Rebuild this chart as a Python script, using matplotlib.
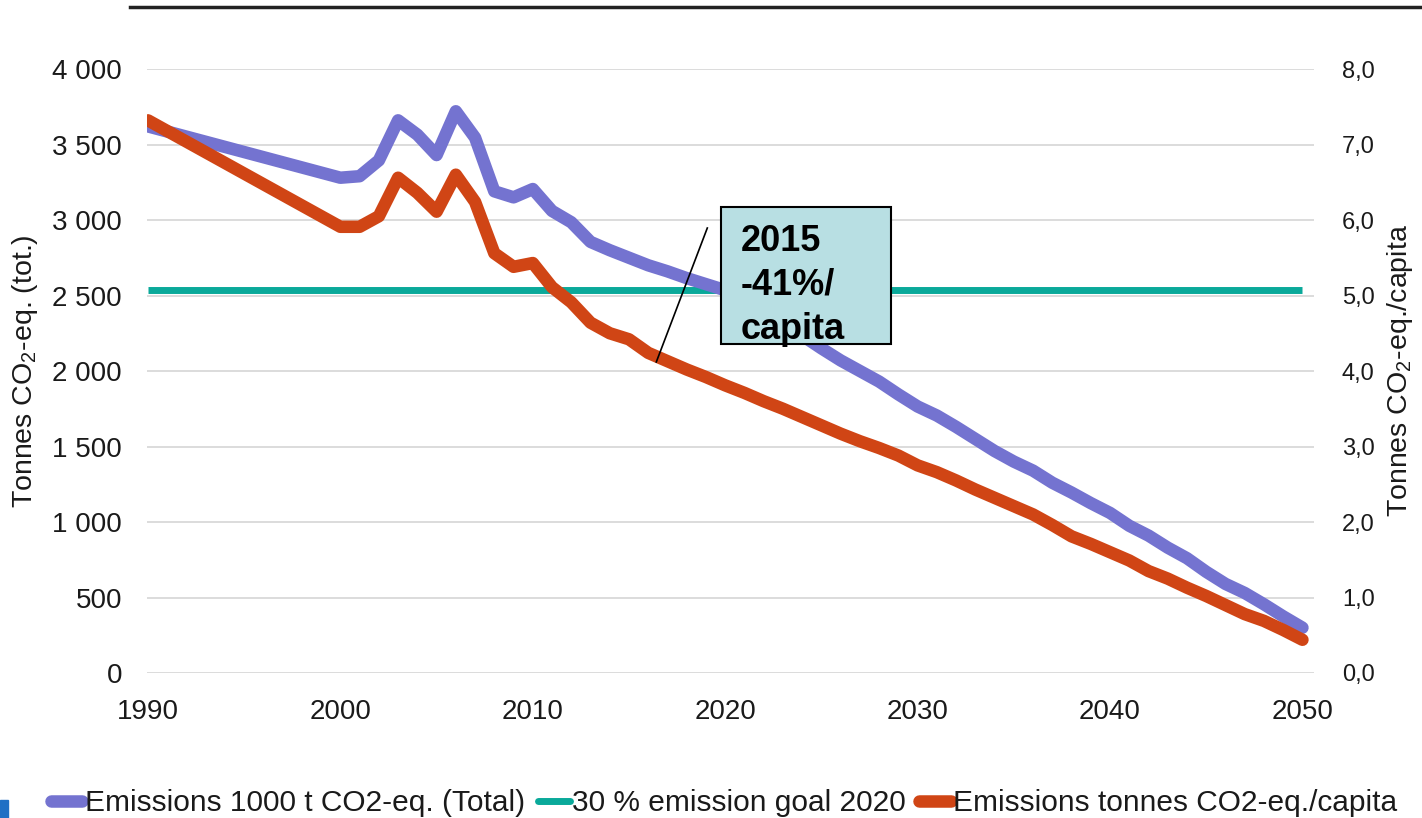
import matplotlib
matplotlib.use("Agg")
import matplotlib.pyplot as plt
from matplotlib.patches import Rectangle
from matplotlib.lines import Line2D
from matplotlib.ticker import FuncFormatter

# ---- data ----
years = [1990] + list(range(2000, 2051))

total_kt = [3620,
            3280, 3290, 3395, 3660, 3565, 3430, 3720, 3545, 3190, 3150,
            3205, 3060, 2985, 2855, 2800, 2750, 2700, 2660, 2615, 2575,
            2535, 2465, 2390, 2310, 2235, 2150, 2070, 2000, 1930, 1845,
            1765, 1705, 1630, 1550, 1470, 1400, 1340, 1260, 1195, 1125,
            1060, 975, 910, 830, 760, 670, 590, 530, 455, 375, 300]

per_capita = [7.32,
              5.91, 5.91, 6.05, 6.56, 6.36, 6.11, 6.60, 6.24, 5.56, 5.38,
              5.43, 5.11, 4.91, 4.64, 4.50, 4.42, 4.24, 4.13, 4.02, 3.92,
              3.81, 3.71, 3.60, 3.50, 3.39, 3.28, 3.17, 3.07, 2.98, 2.88,
              2.75, 2.66, 2.55, 2.43, 2.32, 2.21, 2.10, 1.96, 1.81, 1.71,
              1.60, 1.49, 1.35, 1.25, 1.13, 1.02, 0.90, 0.78, 0.69, 0.57, 0.44]

goal_years = [1990, 2050]
goal_kt = [2535, 2535]

label_total = "Emissions 1000 t CO2-eq. (Total)"
label_goal = "30 % emission goal 2020"
label_capita = "Emissions tonnes CO2-eq./capita"
box_text = "2015\n-41%/\ncapita"

# ---- fonts ----
plt.rcParams["font.family"] = ["Liberation Sans", "DejaVu Sans"]
plt.rcParams["mathtext.fontset"] = "custom"
plt.rcParams["mathtext.rm"] = "Liberation Sans"
plt.rcParams["mathtext.it"] = "Liberation Sans"

c_blue = "#7473d0"
c_teal = "#0aa99a"
c_red = "#d04515"
c_grid = "#d9d9d9"
c_text = "#1a1a1a"

fig = plt.figure(figsize=(14.22, 8.18), dpi=100)
ax = fig.add_axes([147 / 1422, 1 - 673 / 818, 1167 / 1422, 604 / 818])
ax2 = ax.twinx()

ax.plot(goal_years, goal_kt, color=c_teal, lw=5, solid_capstyle="butt", zorder=2)
ax.plot(years, total_kt, color=c_blue, lw=9, solid_capstyle="round",
        solid_joinstyle="round", zorder=3)
ax2.plot(years, per_capita, color=c_red, lw=9, solid_capstyle="round",
         solid_joinstyle="round", zorder=3)

ax.set_xlim(1989.95, 2050.6)
ax.set_ylim(0, 4000)
ax2.set_ylim(0, 8)
ax.set_xticks(range(1990, 2051, 10))
ax.set_yticks(range(0, 4001, 500))
ax2.set_yticks(range(0, 9))

ax.yaxis.set_major_formatter(FuncFormatter(lambda v, p: f"{int(v):,}".replace(",", " ")))
ax2.yaxis.set_major_formatter(FuncFormatter(lambda v, p: f"{v:.1f}".replace(".", ",")))

ax.grid(axis="y", color=c_grid, lw=1.3)
ax.set_axisbelow(True)
for a in (ax, ax2):
    for s in a.spines.values():
        s.set_visible(False)
ax.tick_params(axis="both", length=0, labelsize=20, colors=c_text)
ax.tick_params(axis="y", pad=18)
ax.tick_params(axis="x", pad=19)
ax2.tick_params(axis="y", length=0, labelsize=17, colors=c_text, pad=20)

ax.set_ylabel("Tonnes CO$_2$-eq. (tot.)", fontsize=20.5, color=c_text)
ax.yaxis.set_label_coords(-0.092, 0.5)
ax2.set_ylabel("Tonnes CO$_2$-eq./capita", fontsize=20.5, color=c_text, rotation=90)
ax2.yaxis.set_label_coords(1.061, 0.5)

# annotation box with leader line (left-axis coordinates)
ax2.add_line(Line2D([2019.07, 2016.42], [2947, 2060], color="black", lw=1.2,
                    transform=ax.transData, zorder=6))
ax2.add_patch(Rectangle((2019.8, 2179), 8.8, 907, facecolor="#b8dfe3",
                        edgecolor="black", lw=1.5, transform=ax.transData, zorder=7))
ax2.text(2020.8, 2975, box_text, transform=ax.transData, ha="left", va="top",
         fontsize=26, fontweight="bold", family="Liberation Sans",
         linespacing=1.34, zorder=8)

# legend along the bottom
handles = [Line2D([], [], color=c_blue, lw=9, solid_capstyle="round"),
           Line2D([], [], color=c_teal, lw=5, solid_capstyle="round"),
           Line2D([], [], color=c_red, lw=9, solid_capstyle="round")]
fig.legend(handles, [label_total, label_goal, label_capita], loc="center",
           bbox_to_anchor=(724 / 1422, 1 - 803 / 818), ncol=3, frameon=False,
           fontsize=21.5, handlelength=1.05, handletextpad=0.08, columnspacing=0.45,
           labelcolor=c_text)

# decorations: top rule and small blue mark
fig.add_artist(Line2D([130 / 1422, 1], [1 - 7 / 818] * 2, color="#222222", lw=2.5))
fig.add_artist(Rectangle((0, 0), 8 / 1422, 18 / 818, color="#1f6fc4"))

fig.savefig("out.png", dpi=100)
